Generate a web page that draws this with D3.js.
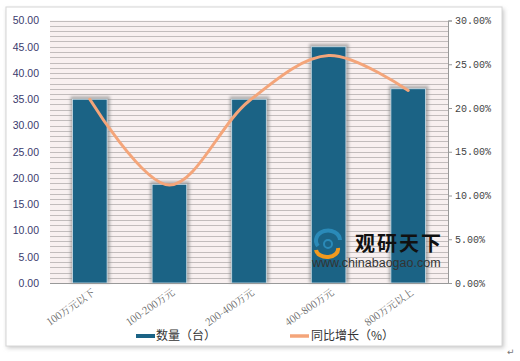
<!DOCTYPE html>
<html><head><meta charset="utf-8">
<script src="https://cdn.jsdelivr.net/npm/d3@7"></script>
<style>body{margin:0;background:#fff;}svg{display:block;}</style>
</head><body>
<script>
const categories = ["100万元以下","100-200万元","200-400万元","400-800万元","800万元以上"];
const quantity = [35, 18.8, 35, 45, 37];
const growth = [21.0, 11.2, 20.8, 26.0, 22.0];
const leftTicks = [0,5,10,15,20,25,30,35,40,45,50];
const rightTicks = [0,5,10,15,20,25,30];
const seriesNames = ["数量（台）","同比增长（%）"];

const W = 520, H = 361;
const svg = d3.select("body").append("svg").attr("width", W).attr("height", H);
const defs = svg.append("defs");
const f1 = defs.append("filter").attr("id","fshadow").attr("x","-20%").attr("y","-20%").attr("width","140%").attr("height","140%");
f1.append("feGaussianBlur").attr("stdDeviation",1.6);
const f2 = defs.append("filter").attr("id","frameShadow").attr("x","-5%").attr("y","-5%").attr("width","110%").attr("height","110%");
f2.append("feGaussianBlur").attr("stdDeviation",2);

// frame
svg.append("rect").attr("x",7).attr("y",9).attr("width",497).attr("height",339).attr("fill","#c8c8c8").attr("filter","url(#frameShadow)");
svg.append("rect").attr("x",6).attr("y",7).attr("width",496).attr("height",339).attr("fill","#fff").attr("stroke","#d6d6d6").attr("stroke-width",1);
svg.append("text").attr("x",507).attr("y",355).attr("font-size",9).attr("fill","#777").attr("font-family","DejaVu Sans").text("↵");

const m = {left:50, right:448, top:20.5, bottom:283};
const x = d3.scaleBand().domain(categories).range([m.left, m.right]).paddingInner(0.565).paddingOuter(0.2825);
const xc = d => x(d) + x.bandwidth()/2;
const yL = d3.scaleLinear().domain([0,50]).range([m.bottom, m.top]);
const yR = d3.scaleLinear().domain([0,30]).range([m.bottom, m.top]);

// plot background
svg.append("rect").attr("x",m.left).attr("y",m.top).attr("width",m.right-m.left).attr("height",m.bottom-m.top).attr("fill","#f8f0f0");
// dense gridlines
svg.append("g").selectAll("line").data(d3.range(1,51)).join("line")
  .attr("x1",m.left).attr("x2",m.right)
  .attr("y1",d=>Math.round(yL(d))+0.5).attr("y2",d=>Math.round(yL(d))+0.5)
  .attr("stroke","#c2bcbc").attr("stroke-width",1);

// bars shadow
svg.append("g").selectAll("rect").data(quantity).join("rect")
  .attr("x",(d,i)=>x(categories[i])-2).attr("y",d=>yL(d)-3)
  .attr("width",x.bandwidth()+5).attr("height",d=>m.bottom-yL(d)+3)
  .attr("fill","#8a8a8a").attr("opacity",0.65).attr("filter","url(#fshadow)");
// bars
svg.append("g").selectAll("rect").data(quantity).join("rect")
  .attr("x",(d,i)=>x(categories[i])).attr("y",d=>yL(d))
  .attr("width",x.bandwidth()).attr("height",d=>m.bottom-yL(d))
  .attr("fill","#1b6385").attr("stroke","#cfe0ea").attr("stroke-width",0.8);

// x axis line
svg.append("line").attr("x1",m.left).attr("x2",m.right).attr("y1",m.bottom+0.5).attr("y2",m.bottom+0.5).attr("stroke","#999");
// right axis
const rAxis = svg.append("g").attr("transform",`translate(${m.right},0)`)
  .call(d3.axisRight(yR).tickValues(rightTicks).tickSize(4).tickFormat(d=>d.toFixed(2)+"%"));
rAxis.select(".domain").attr("stroke","#999");
rAxis.selectAll(".tick line").attr("stroke","#999");
rAxis.selectAll("text").attr("font-family","Liberation Mono, DejaVu Sans Mono, monospace").attr("font-size",10).attr("fill","#444").attr("x",7);

// left axis labels
const lAxis = svg.append("g").attr("transform",`translate(${m.left},0)`)
  .call(d3.axisLeft(yL).tickValues(leftTicks).tickSize(0).tickFormat(d=>d.toFixed(2)));
lAxis.select(".domain").remove();
lAxis.selectAll("text").attr("font-family","Liberation Sans, Arial, sans-serif").attr("font-size",10.5).attr("fill","#3a3a6e").attr("x",-11);

// x labels
svg.append("g").selectAll("text").data(categories).join("text")
  .attr("transform",d=>`translate(${xc(d)+6},${m.bottom+11}) rotate(-35)`)
  .attr("text-anchor","end").attr("font-family","Noto Serif CJK SC, Noto Sans CJK SC, serif")
  .attr("font-size",10).attr("fill","#666").text(d=>d);

// line
const line = d3.line().x((d,i)=>xc(categories[i])).y(d=>yR(d)).curve(d3.curveCatmullRom.alpha(0.5));
svg.append("path").datum(growth).attr("d",line).attr("fill","none").attr("stroke","#f4a57a").attr("stroke-width",3).attr("stroke-linecap","round");

// watermark
const wm = svg.append("g");
wm.append("path").attr("d","M318,246 a12,10 0 1,1 22,-6").attr("fill","none").attr("stroke","#2a8ab8").attr("stroke-width",4);
wm.append("path").attr("d","M316,250 a11,8 0 0,0 22,-2").attr("fill","none").attr("stroke","#f29a1e").attr("stroke-width",4);
wm.append("circle").attr("cx",328).attr("cy",244).attr("r",4).attr("fill","none").attr("stroke","#2a8ab8").attr("stroke-width",2);
wm.append("text").attr("x",355).attr("y",251).attr("font-family","Noto Sans CJK SC").attr("font-weight","bold").attr("font-size",20).attr("fill","#111").attr("letter-spacing",2).text("观研天下");
wm.append("text").attr("x",312).attr("y",267).attr("font-family","Liberation Sans, Arial").attr("font-size",12.5).attr("fill","#333").text("www.chinabaogao.com");

// legend
const lg = svg.append("g").attr("font-family","Noto Sans CJK SC").attr("font-size",12).attr("fill","#333");
lg.append("rect").attr("x",136).attr("y",334).attr("width",19).attr("height",4).attr("fill","#1b6385");
lg.append("text").attr("x",156).attr("y",340).text(seriesNames[0]);
lg.append("line").attr("x1",290).attr("x2",309).attr("y1",336).attr("y2",336).attr("stroke","#f4a57a").attr("stroke-width",3.5);
lg.append("text").attr("x",311).attr("y",340).text(seriesNames[1]);
</script>
</body></html>
